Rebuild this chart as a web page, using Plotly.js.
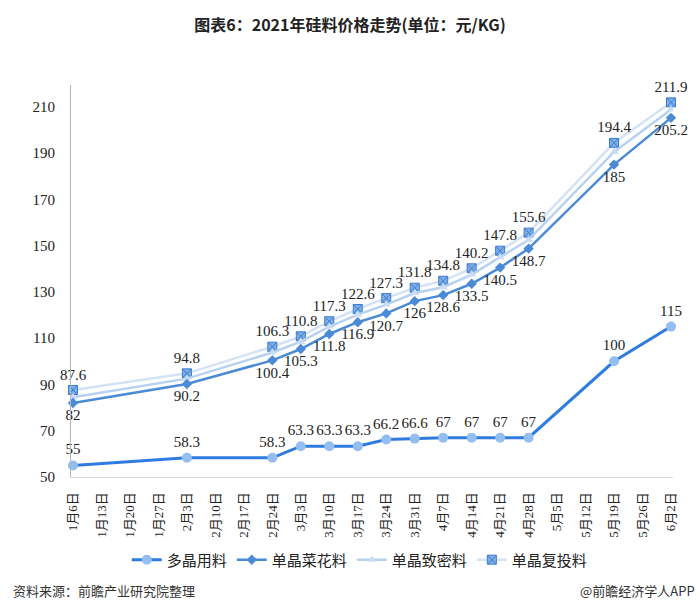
<!DOCTYPE html>
<html>
<head>
<meta charset="utf-8">
<script src="https://cdn.plot.ly/plotly-3.0.1.min.js"></script>
<style>
  body { margin: 0; background: #fff; }
  #chart { width: 700px; height: 616px; }
</style>
</head>
<body>
<div id="chart"></div>
<script>
// all weekly dates on the axis
var allDates = ['1月6日', '1月13日', '1月20日', '1月27日', '2月3日', '2月10日', '2月17日',
  '2月24日', '3月3日', '3月10日', '3月17日', '3月24日', '3月31日', '4月7日', '4月14日',
  '4月21日', '4月28日', '5月5日', '5月12日', '5月19日', '5月26日', '6月2日'];

// dates that have a quote
var dates = ['1月6日', '2月3日', '2月24日', '3月3日', '3月10日', '3月17日', '3月24日',
  '3月31日', '4月7日', '4月14日', '4月21日', '4月28日', '5月19日', '6月2日'];

var duojing = [55, 58.3, 58.3, 63.3, 63.3, 63.3, 66.2, 66.6, 67, 67, 67, 67, 100, 115];
var caihua = [82, 90.2, 100.4, 105.3, 111.8, 116.9, 120.7, 126, 128.6, 133.5, 140.5, 148.7, 185, 205.2];
var zhimi = [84.5, 92.5, 103.8, 108.5, 115, 120.2, 124.5, 129.5, 132, 137.5, 145, 152.5, 190.5, 208.8];
var futou = [87.6, 94.8, 106.3, 110.8, 117.3, 122.6, 127.3, 131.8, 134.8, 140.2, 147.8, 155.6, 194.4, 211.9];

var serif = 'Liberation Serif, "Times New Roman", serif';
var cjk = '"Noto Sans CJK SC", sans-serif';

var data = [
  // keeps every week on the axis
  {x: allDates, y: allDates.map(function () { return null; }), type: 'scatter', mode: 'lines',
   showlegend: false, hoverinfo: 'skip'},
  {x: dates, y: futou, name: '单晶复投料', type: 'scatter', mode: 'lines+markers+text',
   line: {color: '#d3e3f5', width: 2.5},
   marker: {symbol: 'square-x', size: 9, color: '#7eaee6', line: {color: '#3c7bd0', width: 1}},
   text: futou.map(String), textposition: 'top center', cliponaxis: false,
   textfont: {family: serif, size: 15, color: '#222'}},
  {x: dates, y: zhimi, name: '单晶致密料', type: 'scatter', mode: 'lines+markers',
   line: {color: '#b7d2f0', width: 2.5},
   marker: {symbol: 'triangle-up', size: 8, color: '#c8dcf3'}},
  {x: dates, y: caihua, name: '单晶菜花料', type: 'scatter', mode: 'lines+markers+text',
   line: {color: '#4b8ad5', width: 2.5},
   marker: {symbol: 'diamond', size: 8, color: '#4b8ad5'},
   text: caihua.map(String), textposition: 'bottom center', cliponaxis: false,
   textfont: {family: serif, size: 15, color: '#222'}},
  {x: dates, y: duojing, name: '多晶用料', type: 'scatter', mode: 'lines+markers+text',
   line: {color: '#2f7ce0', width: 3},
   marker: {symbol: 'circle', size: 10, color: '#93bef0'},
   text: duojing.map(String), textposition: 'top center', cliponaxis: false,
   textfont: {family: serif, size: 15, color: '#222'}}
];

var layout = {
  width: 700,
  height: 616,
  paper_bgcolor: '#fff',
  plot_bgcolor: '#fff',
  margin: {l: 71, r: 27, t: 85, b: 139},
  title: {text: '<b>图表6：2021年硅料价格走势(单位：元/KG)</b>', x: 0.5, xanchor: 'center',
    y: 0.958, yanchor: 'middle', font: {family: cjk, size: 16, color: '#222'}},
  xaxis: {
    type: 'category', categoryorder: 'array', categoryarray: allDates,
    range: [-0.07, 21.07], showgrid: false, zeroline: false,
    showline: true, linecolor: '#d9d9d9', linewidth: 1,
    ticks: 'outside', ticklen: 9, tickcolor: 'rgba(0,0,0,0)', tickangle: -90,
    tickfont: {family: serif + ', ' + cjk, size: 13, color: '#222'}
  },
  yaxis: {
    range: [50, 219.4], tickvals: [50, 70, 90, 110, 130, 150, 170, 190, 210],
    showgrid: false, zeroline: false, showline: true, linecolor: '#b5b5b5', linewidth: 1,
    ticks: 'outside', ticklen: 12, tickcolor: 'rgba(0,0,0,0)',
    tickfont: {family: serif, size: 15, color: '#222'}
  },
  legend: {
    orientation: 'h', traceorder: 'reversed', xref: 'container', yref: 'container',
    x: 0.514, xanchor: 'center', y: 0.091, yanchor: 'middle',
    font: {family: cjk, size: 15, color: '#222'}, itemwidth: 30
  },
  showlegend: true,
  annotations: [
    {text: '资料来源：前瞻产业研究院整理', xref: 'paper', yref: 'paper', x: -0.1, y: -0.29,
     xanchor: 'left', yanchor: 'middle', showarrow: false,
     font: {family: cjk, size: 13, color: '#333'}},
    {text: '@前瞻经济学人APP', xref: 'paper', yref: 'paper', x: 1.04, y: -0.29,
     xanchor: 'right', yanchor: 'middle', showarrow: false,
     font: {family: cjk, size: 13, color: '#333'}}
  ]
};

Plotly.newPlot('chart', data, layout, {displayModeBar: false});
</script>
</body>
</html>
